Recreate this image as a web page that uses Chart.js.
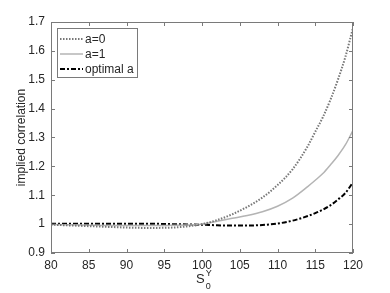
<!DOCTYPE html>
<html>
<head>
<meta charset="utf-8">
<script src="https://cdn.jsdelivr.net/npm/chart.js@4"></script>
<style>
  html, body { margin: 0; padding: 0; background: #fff; }
  #wrap { width: 390px; height: 293px; }
</style>
</head>
<body>
<div id="wrap"><canvas id="chart" width="390" height="293"></canvas></div>
<script>
const sValues = [80, 82, 84, 86, 88, 90, 92, 94, 96, 98, 100, 102, 104, 106, 108, 110, 112, 114, 115, 116, 117, 118, 119, 120];
const aZero = [0.998, 0.996, 0.994, 0.992, 0.99, 0.988, 0.987, 0.987, 0.988, 0.992, 1.0, 1.014, 1.034, 1.06, 1.092, 1.135, 1.19, 1.27, 1.32, 1.37, 1.43, 1.5, 1.58, 1.68];
const aOne = [0.999, 0.998, 0.997, 0.996, 0.995, 0.995, 0.995, 0.995, 0.996, 0.997, 1.0, 1.01, 1.02, 1.03, 1.043, 1.062, 1.09, 1.13, 1.152, 1.175, 1.205, 1.237, 1.275, 1.325];
const aOptimal = [1.001, 1.001, 1.001, 1.001, 1.001, 1.001, 1.001, 1.001, 1.0, 0.999, 0.998, 0.996, 0.995, 0.995, 0.997, 1.002, 1.012, 1.028, 1.038, 1.05, 1.065, 1.085, 1.108, 1.145];
const xTicks = [80, 85, 90, 95, 100, 105, 110, 115, 120];
const yTicks = [0.9, 1, 1.1, 1.2, 1.3, 1.4, 1.5, 1.6, 1.7];

const FONT = "'Liberation Sans', Arial, sans-serif";
const AXIS = "#7a7a7a";
const TEXT = "#262626";

const toPoints = (ys) => sValues.map((x, i) => ({x, y: ys[i]}));

const matlabAxes = {
  id: "matlabAxes",
  afterDraw(chart) {
    const {ctx, chartArea: a, scales} = chart;
    ctx.save();
    ctx.strokeStyle = AXIS;
    ctx.lineWidth = 1;
    ctx.strokeRect(a.left + 0.5, a.top + 0.5, a.right - a.left - 1, a.bottom - a.top - 1);
    ctx.beginPath();
    for (const v of xTicks) {
      const px = Math.round(scales.x.getPixelForValue(v)) + 0.5;
      ctx.moveTo(px, a.bottom); ctx.lineTo(px, a.bottom - 4);
      ctx.moveTo(px, a.top); ctx.lineTo(px, a.top + 4);
    }
    for (const v of yTicks) {
      const py = Math.round(scales.y.getPixelForValue(v)) + 0.5;
      ctx.moveTo(a.left, py); ctx.lineTo(a.left + 4, py);
      ctx.moveTo(a.right, py); ctx.lineTo(a.right - 4, py);
    }
    ctx.stroke();

    // x axis title S_0^Y
    ctx.fillStyle = TEXT;
    ctx.textBaseline = "alphabetic";
    ctx.font = `13px ${FONT}`;
    const cx = (a.left + a.right) / 2 - 6;
    ctx.fillText("S", cx, 283);
    const sw = ctx.measureText("S").width;
    ctx.font = `9px ${FONT}`;
    ctx.fillText("Y", cx + sw + 1, 276);
    ctx.fillText("0", cx + sw + 1, 289);

    // y axis title
    ctx.font = `12px ${FONT}`;
    ctx.translate(25, (a.top + a.bottom) / 2);
    ctx.rotate(-Math.PI / 2);
    ctx.textAlign = "center";
    ctx.fillText("implied correlation", 0, 0);
    ctx.restore();

    // legend box
    ctx.save();
    const bx = a.left + 6, by = a.top + 6, bw = 80, bh = 49;
    ctx.fillStyle = "#fff";
    ctx.fillRect(bx, by, bw, bh);
    ctx.strokeStyle = AXIS;
    ctx.strokeRect(bx + 0.5, by + 0.5, bw, bh);
    chart.data.datasets.forEach((ds, i) => {
      const ly = by + 11 + i * 15;
      ctx.beginPath();
      ctx.strokeStyle = ds.borderColor;
      ctx.lineWidth = ds.borderWidth;
      ctx.setLineDash(ds.borderDash || []);
      ctx.moveTo(bx + 3, ly);
      ctx.lineTo(bx + 26, ly);
      ctx.stroke();
      ctx.setLineDash([]);
      ctx.fillStyle = TEXT;
      ctx.font = `12px ${FONT}`;
      ctx.textBaseline = "middle";
      ctx.fillText(ds.label, bx + 28, ly + 1);
    });
    ctx.restore();
  }
};

new Chart(document.getElementById("chart"), {
  type: "line",
  data: {
    datasets: [
      {label: "a=0", data: toPoints(aZero), borderColor: "#777777", borderWidth: 2, borderDash: [1.5, 1.5]},
      {label: "a=1", data: toPoints(aOne), borderColor: "#b4b4b4", borderWidth: 1.5},
      {label: "optimal a", data: toPoints(aOptimal), borderColor: "#000000", borderWidth: 2, borderDash: [5, 2, 2, 2]},
    ],
  },
  options: {
    responsive: false,
    animation: false,
    layout: {padding: {top: 22, right: 37, left: 0, bottom: 0}},
    elements: {point: {radius: 0}, line: {cubicInterpolationMode: "monotone"}},
    plugins: {legend: {display: false}, tooltip: {enabled: false}},
    scales: {
      x: {
        type: "linear", min: 80, max: 120,
        afterBuildTicks: (s) => { s.ticks = xTicks.map((v) => ({value: v})); },
        afterFit: (s) => { s.height = 40; },
        grid: {display: false, drawTicks: false},
        border: {display: false},
        ticks: {color: TEXT, padding: 5, font: {family: FONT, size: 12}, maxRotation: 0},
      },
      y: {
        type: "linear", min: 0.9, max: 1.7,
        afterBuildTicks: (s) => { s.ticks = yTicks.map((v) => ({value: v})); },
        afterFit: (s) => { s.width = 51; },
        grid: {display: false, drawTicks: false},
        border: {display: false},
        ticks: {color: TEXT, padding: 6, font: {family: FONT, size: 12},
          callback: (v) => String(Math.round(v * 10) / 10)},
      },
    },
  },
  plugins: [matlabAxes],
});
</script>
</body>
</html>
